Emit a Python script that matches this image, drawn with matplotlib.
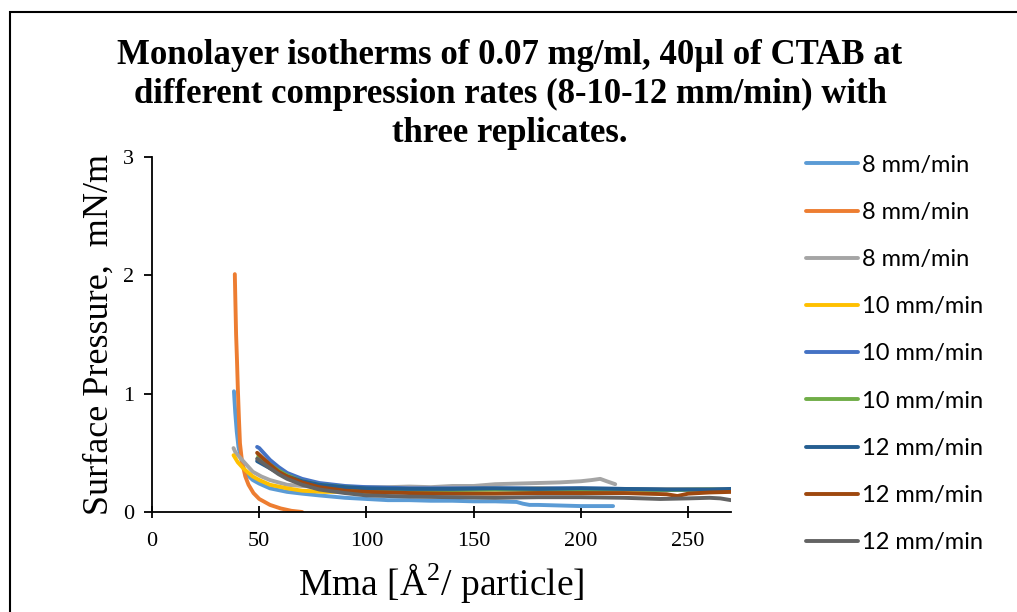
import matplotlib.pyplot as plt
from matplotlib.patches import Rectangle

plt.rcParams["mathtext.fontset"] = "custom"
plt.rcParams["mathtext.rm"] = "Liberation Serif"

title_lines = ["Monolayer isotherms of 0.07 mg/ml, 40µl of CTAB at",
               "different compression rates (8-10-12 mm/min) with",
               "three replicates."]
labels = ["8 mm/min", "8 mm/min", "8 mm/min",
          "10 mm/min", "10 mm/min", "10 mm/min",
          "12 mm/min", "12 mm/min", "12 mm/min"]
colors = ["#5B9BD5", "#ED7D31", "#A5A5A5", "#FFC000", "#4472C4",
          "#70AD47", "#255E91", "#9E480E", "#636363"]

# 8 mm/min
x_8a = [38.2, 38.8, 39.5, 40.3, 41.5, 42.5, 44, 47, 50, 55, 63, 70, 78, 90, 100, 110, 120,
        130, 140, 150, 160, 170, 173, 176, 180, 190, 200, 210, 215]
y_8a = [1.02, 0.84, 0.68, 0.55, 0.45, 0.38, 0.32, 0.27, 0.24, 0.20, 0.17, 0.155, 0.14, 0.12,
        0.11, 0.10, 0.10, 0.095, 0.095, 0.09, 0.09, 0.085, 0.07, 0.06, 0.06, 0.055, 0.05, 0.05, 0.05]
x_8b = [38.6, 38.9, 39.2, 39.6, 40.0, 40.5, 41, 42, 43.5, 45, 47.3, 50, 55, 60, 65, 70]
y_8b = [2.01, 1.75, 1.50, 1.29, 1.05, 0.80, 0.58, 0.42, 0.30, 0.23, 0.16, 0.11, 0.06, 0.03, 0.01, 0.0]
x_8c = [38, 39, 41, 44, 47, 51, 55, 63, 70, 80, 90, 100, 110, 120, 130, 140, 150, 160, 170,
        180, 190, 200, 205, 209, 212, 216]
y_8c = [0.54, 0.50, 0.46, 0.40, 0.34, 0.30, 0.27, 0.23, 0.22, 0.21, 0.21, 0.21, 0.21, 0.215,
        0.21, 0.22, 0.22, 0.235, 0.24, 0.245, 0.25, 0.26, 0.27, 0.28, 0.26, 0.235]

# 10 mm/min
x_10a = [38, 40, 42.5, 45, 47, 50, 55, 63, 70, 80, 100, 120, 140, 160, 180, 200, 220, 240, 260, 270]
y_10a = [0.48, 0.42, 0.37, 0.33, 0.30, 0.27, 0.23, 0.20, 0.18, 0.17, 0.17, 0.18, 0.19, 0.19,
         0.20, 0.19, 0.19, 0.19, 0.19, 0.19]
x_10b = [49, 50, 52, 55, 59, 63, 70, 78, 90, 100, 120, 140, 160, 180, 200, 220, 240, 260, 270]
y_10b = [0.55, 0.54, 0.50, 0.44, 0.38, 0.33, 0.28, 0.245, 0.22, 0.21, 0.20, 0.20, 0.20, 0.20,
         0.20, 0.195, 0.19, 0.19, 0.19]
x_10c = [49.5, 52, 55, 59, 63, 70, 78, 90, 100, 120, 140, 160, 180, 200, 220, 240, 260, 270]
y_10c = [0.47, 0.44, 0.40, 0.35, 0.31, 0.26, 0.23, 0.21, 0.195, 0.185, 0.185, 0.19, 0.185,
         0.185, 0.19, 0.185, 0.19, 0.185]

# 12 mm/min
x_12a = [49, 52, 55, 59, 63, 70, 78, 90, 100, 120, 140, 160, 180, 200, 220, 240, 260, 270]
y_12a = [0.43, 0.40, 0.37, 0.33, 0.30, 0.26, 0.23, 0.21, 0.20, 0.195, 0.195, 0.20, 0.195,
         0.20, 0.195, 0.19, 0.19, 0.195]
x_12b = [49, 52, 55, 59, 63, 70, 78, 90, 100, 120, 140, 160, 180, 200, 220, 240, 245, 250, 260, 270]
y_12b = [0.50, 0.45, 0.40, 0.34, 0.30, 0.25, 0.21, 0.18, 0.17, 0.16, 0.155, 0.155, 0.16, 0.16,
         0.16, 0.15, 0.135, 0.155, 0.165, 0.17]
x_12c = [49, 52, 55, 59, 63, 70, 78, 90, 100, 120, 140, 160, 180, 200, 220, 237, 250, 260, 265, 270]
y_12c = [0.45, 0.41, 0.37, 0.32, 0.28, 0.23, 0.19, 0.16, 0.14, 0.13, 0.125, 0.12, 0.125, 0.125,
         0.12, 0.11, 0.115, 0.12, 0.115, 0.10]

series = [(x_8a, y_8a), (x_8b, y_8b), (x_8c, y_8c),
          (x_10a, y_10a), (x_10b, y_10b), (x_10c, y_10c),
          (x_12a, y_12a), (x_12b, y_12b), (x_12c, y_12c)]

fig = plt.figure(figsize=(10.17, 6.12), dpi=100)
ax = fig.add_axes([0.1495, 0.1634, 0.5693, 0.5801])

lines = []
for (xs, ys), lab, col in zip(series, labels, colors):
    ln, = ax.plot(xs, ys, color=col, linewidth=2.8, label=lab, solid_capstyle="round")
    lines.append(ln)

ax.set_xlim(0, 270)
ax.set_ylim(0, 3)
ax.set_xticks([0, 50, 100, 150, 200, 250])
ax.set_yticks([0, 1, 2, 3])
for s in ("top", "right"):
    ax.spines[s].set_visible(False)
for s in ("left", "bottom"):
    ax.spines[s].set_linewidth(1.3)
ax.tick_params(axis="x", direction="inout", length=9, width=1.3, pad=10)
ax.tick_params(axis="y", direction="out", length=6, width=1.3, pad=7)
for t in ax.get_xticklabels() + ax.get_yticklabels():
    t.set_fontfamily("Liberation Serif")
    t.set_fontsize(16)

ax.set_xlabel(r"Mma [Å$^{2}$/ particle]", fontfamily="Liberation Serif", fontsize=27, labelpad=8)
ax.set_ylabel("Surface Pressure,  mN/m", fontfamily="Liberation Serif", fontsize=26, labelpad=5)

# title, one text per line (baselines)
for line, base_px in zip(title_lines, [64, 103, 142]):
    fig.text(0.5015, 1 - base_px / 612, line, ha="center", va="baseline",
             fontfamily="Liberation Serif", fontweight="bold", fontsize=25)

fig.legend(handles=lines, loc="upper left", bbox_to_anchor=(0.772, 0.782),
           frameon=False, prop={"family": "Lato", "size": 17},
           handlelength=2.2, handletextpad=0.16, labelspacing=1.11)

fig.patches.append(Rectangle((10 / 1017, -0.1), 1.2, 1.1 - 12 / 612,
                             transform=fig.transFigure, fill=False,
                             edgecolor="black", linewidth=1.5))

fig.savefig("out.png", dpi=100)
